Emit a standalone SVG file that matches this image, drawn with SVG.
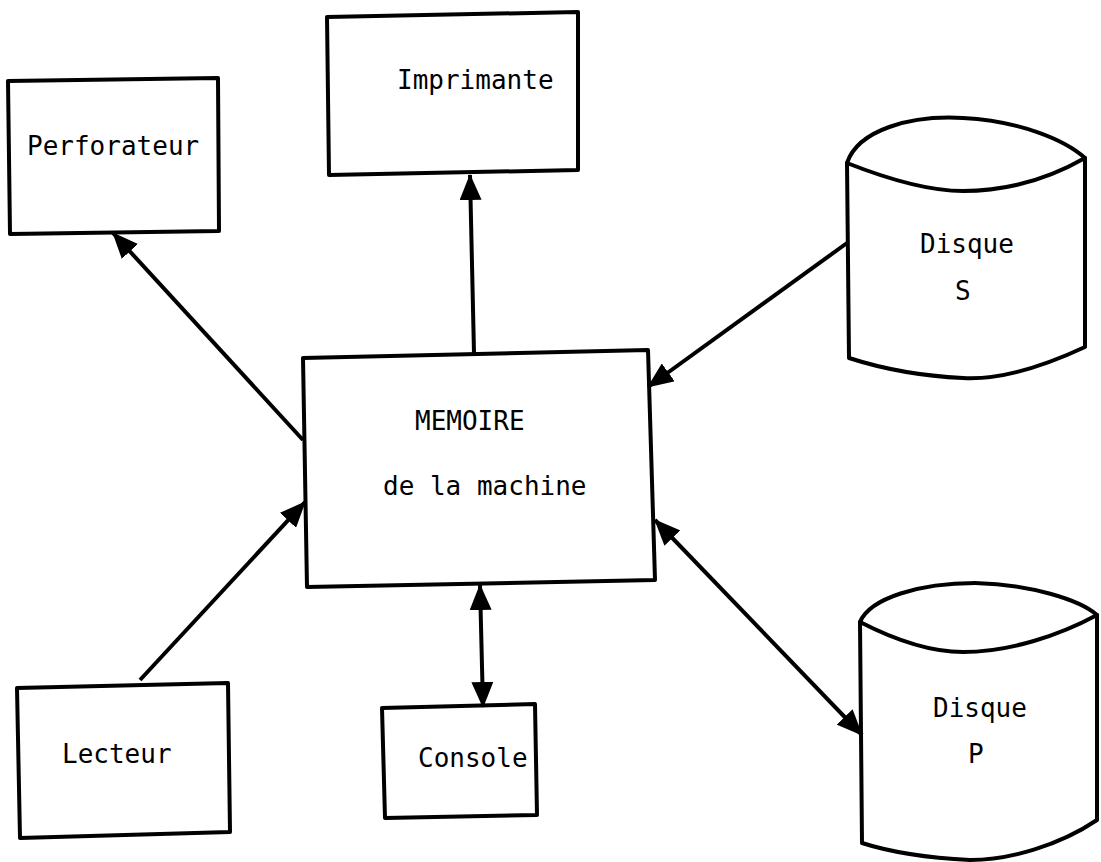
<svg xmlns="http://www.w3.org/2000/svg" width="1101" height="862" viewBox="0 0 1101 862">
<style>
.shape{fill:none;stroke:#000;stroke-width:4;stroke-linejoin:round;stroke-linecap:round}
.conn{fill:none;stroke:#000;stroke-width:4}
.lbl{font-family:"DejaVu Sans Mono","Liberation Mono",monospace;font-size:26px;fill:#000}
</style>
<defs>
<marker id="ah" viewBox="0 0 26 22" refX="25" refY="11" markerWidth="26" markerHeight="22" markerUnits="userSpaceOnUse" orient="auto-start-reverse">
<path d="M0,0 L26,11 L0,22 z" fill="#000"/>
</marker>
</defs>
<rect width="1101" height="862" fill="#fff"/>
<g id="connectors">
<path class="conn" d="M303,440 L113,233" marker-end="url(#ah)"/>
<path class="conn" d="M474,353 L470,175" marker-end="url(#ah)"/>
<path class="conn" d="M847,243 L648,387" marker-end="url(#ah)"/>
<path class="conn" d="M140,680 L305,502" marker-end="url(#ah)"/>
<path class="conn" d="M480,585 L483,707" marker-start="url(#ah)" marker-end="url(#ah)"/>
<path class="conn" d="M655,520 L862,735" marker-start="url(#ah)" marker-end="url(#ah)"/>
</g>
<g id="perforateur">
<path class="shape" d="M8,81 L218,78 L219,231 L10,234 Z"/>
<text class="lbl" x="27" y="155">Perforateur</text>
</g>
<g id="imprimante">
<path class="shape" d="M327,17 L578,12 L578,170 L329,175 Z"/>
<text class="lbl" x="397" y="89">Imprimante</text>
</g>
<g id="disque-s">
<path class="shape" d="M847,163 C858,130 910,115 963,118 C1020,121 1065,140 1085,158 L1085,347 C1040,368 1000,380 963,378 C920,376 880,368 849,358 Z"/>
<path class="shape" d="M847,163 C890,180 930,191 963,191 C1010,191 1050,178 1085,158"/>
<text class="lbl" x="920" y="253">Disque</text>
<text class="lbl" x="955" y="300">S</text>
</g>
<g id="memoire">
<path class="shape" d="M303,358 L648,350 L655,580 L307,587 Z"/>
<text class="lbl" x="415" y="430">MEMOIRE</text>
<text class="lbl" x="383" y="495">de la machine</text>
</g>
<g id="lecteur">
<path class="shape" d="M17,688 L228,683 L230,832 L20,838 Z"/>
<text class="lbl" x="62" y="763">Lecteur</text>
</g>
<g id="console">
<path class="shape" d="M382,708 L535,704 L537,815 L385,818 Z"/>
<text class="lbl" x="418" y="767">Console</text>
</g>
<g id="disque-p">
<path class="shape" d="M860,622 C870,598 920,583 975,583 C1030,584 1080,600 1097,615 L1097,820 C1060,845 1010,860 970,860 C930,858 890,852 862,843 Z"/>
<path class="shape" d="M860,622 C895,640 930,652 963,652 C1010,652 1060,635 1097,615"/>
<text class="lbl" x="933" y="717">Disque</text>
<text class="lbl" x="968" y="763">P</text>
</g>
</svg>
